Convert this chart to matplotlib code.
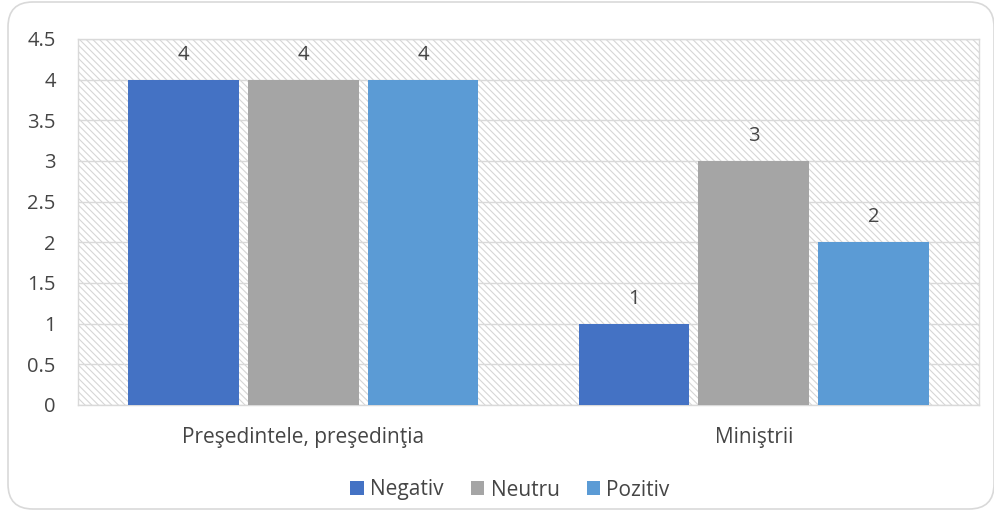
import matplotlib.pyplot as plt
import numpy as np
from matplotlib.patches import FancyBboxPatch, Rectangle

# ── Data ──────────────────────────────────────────────────────────────────────
categories = ["Preşedintele, preşedinţia", "Miniştrii"]
series_names = ["Negativ", "Neutru", "Pozitiv"]
negativ = [4, 1]
neutru = [4, 3]
pozitiv = [4, 2]
y_ticks = [0, 0.5, 1, 1.5, 2, 2.5, 3, 3.5, 4, 4.5]

COLORS = ["#4472C4", "#A5A5A5", "#5B9BD5"]
TEXT = "#454545"
GRID = "#D9D9D9"
FS = 14.5

plt.rcParams["font.family"] = ["Open Sans", "DejaVu Sans"]

W, H = 995, 519
fig = plt.figure(figsize=(W / 100, H / 100), dpi=100, facecolor="white")

# rounded outer frame
frame = FancyBboxPatch((8 / W, 10 / H), 986 / W, 507 / H,
                       boxstyle="round,pad=0,rounding_size=0.025",
                       transform=fig.transFigure, facecolor="none",
                       edgecolor="#D9D9D9", lw=1.2, mutation_aspect=W / H)
fig.patches.append(frame)

ax = fig.add_axes([78 / W, 1 - 405 / H, 901 / W, 366 / H])
ax.set_facecolor("white")

# hatched plot area background
plt.rcParams["hatch.linewidth"] = 0.8
ax.add_patch(Rectangle((0, 0), 1, 1, transform=ax.transAxes, facecolor="white",
                       edgecolor="#D6D6D6", hatch="\\\\\\\\\\", lw=0, zorder=0))

x = np.arange(len(categories))
width = 0.246
step = 0.266
for i, (name, vals) in enumerate(zip(series_names, [negativ, neutru, pozitiv])):
    bars = ax.bar(x + (i - 1) * step, vals, width, color=COLORS[i], label=name, zorder=3)
    for b, v in zip(bars, vals):
        ax.annotate(f"{v}", (b.get_x() + b.get_width() / 2, v), xytext=(0, 18),
                    textcoords="offset points", ha="center", va="center",
                    fontsize=FS, color=TEXT)

ax.set_xlim(-0.5, 1.5)
ax.set_ylim(0, 4.5)
ax.set_yticks(y_ticks)
ax.set_yticklabels([f"{t:g}" for t in y_ticks])
ax.set_xticks(x)
ax.set_xticklabels(categories, fontsize=15)
ax.yaxis.grid(True, color=GRID, lw=1, zorder=1)
ax.set_axisbelow(True)
ax.tick_params(length=0, colors=TEXT)
ax.tick_params(axis="y", labelsize=FS, pad=16)
ax.tick_params(axis="x", pad=16)
for lbl in ax.get_yticklabels():
    lbl.set_horizontalalignment("right")
for sp in ax.spines.values():
    sp.set_color(GRID)
    sp.set_linewidth(1)

leg = fig.legend(loc="center", bbox_to_anchor=(510 / W, 1 - 490 / H), ncol=3,
                 frameon=False, fontsize=15, handlelength=0.65, handleheight=0.65,
                 handletextpad=0.3, columnspacing=1.3)
for t in leg.get_texts():
    t.set_color(TEXT)

fig.savefig("out.png", dpi=100, facecolor="white")
